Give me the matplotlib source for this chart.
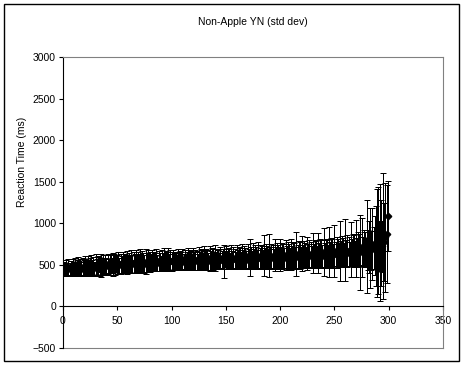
import numpy as np
import matplotlib
matplotlib.use("Agg")
import matplotlib.pyplot as plt
from matplotlib.patches import Rectangle

plt.rcParams['font.family'] = ['Liberation Sans', 'DejaVu Sans']

title = "Non-Apple YN (std dev)"
y_label = "Reaction Time (ms)"

# trial index 1..299, mean reaction time and std dev (ms)
mean_rt = [
    452, 438, 461, 445, 470, 449, 458, 441, 466, 455, 473, 447, 462, 480, 458, 469, 451, 476, 463, 485,
    472, 459, 488, 466, 478, 494, 470, 483, 461, 497, 479, 488, 502, 474, 491, 483, 505, 477, 496, 488,
    510, 485, 499, 516, 492, 505, 521, 498, 511, 503, 525, 496, 514, 507, 529, 502, 518, 511, 533, 506,
    521, 514, 538, 509, 527, 519, 542, 513, 531, 524, 546, 518, 536, 528, 511, 540, 525, 549, 520, 534,
    529, 552, 523, 539, 531, 556, 527, 544, 536, 520, 549, 538, 561, 531, 546, 540, 563, 534, 551, 545,
    558, 537, 549, 544, 528, 562, 541, 553, 547, 566, 539, 556, 534, 550, 568, 543, 557, 552, 536, 571,
    546, 560, 555, 538, 574, 549, 563, 557, 541, 577, 552, 566, 560, 544, 580, 555, 569, 563, 547, 583,
    556, 572, 566, 549, 586, 559, 575, 541, 568, 589, 561, 578, 572, 552, 592, 565, 581, 575, 556, 595,
    568, 584, 578, 559, 598, 571, 587, 581, 561, 601, 574, 590, 584, 564, 604, 577, 593, 587, 567, 607,
    580, 596, 590, 570, 611, 583, 599, 593, 573, 614, 586, 602, 596, 576, 617, 589, 605, 599, 579, 620,
    592, 608, 602, 582, 623, 595, 611, 605, 585, 627, 598, 614, 608, 588, 630, 601, 618, 612, 591, 634,
    605, 622, 616, 595, 639, 609, 626, 620, 599, 643, 612, 630, 624, 602, 648, 616, 635, 629, 606, 653,
    620, 640, 634, 611, 659, 626, 646, 640, 616, 665, 631, 652, 646, 622, 671, 637, 659, 652, 627, 678,
    643, 667, 660, 634, 689, 651, 675, 668, 641, 698, 660, 685, 678, 650, 709, 670, 697, 690, 661, 722,
    684, 713, 706, 675, 748, 702, 734, 727, 760, 792, 728, 770, 760, 722, 845, 780, 830, 870, 1085,
]
std_rt = [
    88, 72, 95, 81, 104, 77, 90, 69, 99, 84, 108, 75, 93, 112, 86, 97, 79, 105, 91, 118,
    94, 83, 121, 88, 102, 126, 85, 110, 79, 131, 97, 115, 92, 104, 136, 89, 112, 99, 124, 95,
    118, 86, 127, 101, 93, 140, 108, 122, 97, 113, 133, 90, 119, 105, 128, 94, 116, 109, 137, 102,
    121, 98, 135, 107, 126, 114, 142, 100, 123, 111, 139, 96, 129, 117, 104, 145, 112, 131, 99, 125,
    104, 124, 93, 114, 107, 133, 95, 120, 109, 91, 127, 103, 137, 98, 117, 112, 140, 101, 123, 115,
    115, 90, 108, 102, 86, 126, 97, 112, 105, 130, 94, 117, 88, 110, 133, 100, 120, 113, 92, 137,
    103, 123, 116, 94, 140, 106, 126, 119, 97, 144, 110, 130, 122, 100, 148, 112, 132, 125, 102, 151,
    99, 120, 109, 89, 131, 102, 121, 195, 92, 136, 105, 123, 114, 95, 142, 107, 128, 118, 98, 146,
    108, 130, 120, 100, 149, 112, 134, 123, 103, 154, 115, 225, 126, 106, 158, 118, 140, 130, 108, 162,
    119, 142, 132, 111, 250, 122, 147, 137, 113, 255, 125, 152, 141, 116, 190, 128, 156, 145, 119, 195,
    126, 153, 144, 118, 180, 130, 158, 148, 120, 185, 134, 164, 153, 124, 265, 137, 167, 157, 126, 210,
    133, 163, 152, 124, 200, 138, 167, 158, 127, 235, 141, 172, 161, 130, 240, 144, 176, 166, 133, 285,
    140, 173, 160, 130, 300, 144, 178, 166, 133, 310, 148, 184, 171, 137, 360, 151, 189, 176, 140, 370,
    153, 194, 178, 144, 330, 158, 202, 186, 148, 345, 163, 209, 195, 450, 360, 168, 218, 202, 158, 560,
    240, 310, 480, 232, 430, 256, 350, 480, 650, 640, 300, 700, 520, 310, 760, 470, 660, 590, 420,
]
trial = list(range(1, len(mean_rt) + 1))

x_ticks = [0, 50, 100, 150, 200, 250, 300, 350]
y_ticks = [-500, 0, 500, 1000, 1500, 2000, 2500, 3000]

fig = plt.figure(figsize=(4.64, 3.66), dpi=100)
fig.patches.append(Rectangle((4 / 464, 5 / 366), 455 / 464, 357 / 366, transform=fig.transFigure,
                             fill=False, edgecolor='black', linewidth=1.0))

ax = fig.add_axes([63 / 464, 18 / 366, 380 / 464, 291 / 366])
_, caps, bars = ax.errorbar(trial, mean_rt, yerr=std_rt, fmt='D', color='black', markersize=3.3,
                            ecolor='black', elinewidth=0.72, capsize=2.4, capthick=0.72)
for b in bars:
    b.set_antialiased(False)

ax.set_xlim(0, 350)
ax.set_ylim(-500, 3000)
ax.set_xticks(x_ticks)
ax.set_yticks(y_ticks)

ax.spines['bottom'].set_position(('data', 0))
ax.spines['bottom'].set_color('black')
ax.spines['left'].set_color('black')
ax.spines['top'].set_color('#808080')
ax.spines['right'].set_color('#808080')
for s in ax.spines.values():
    s.set_linewidth(0.8)
ax.axhline(-500, color='#808080', linewidth=0.8, clip_on=False)

ax.tick_params(axis='both', direction='out', length=3, width=0.8, labelsize=7.5, pad=2)
ax.tick_params(axis='x', pad=4)

fig.text(253 / 464, 1 - 22 / 366, title, ha='center', va='center', fontsize=7.5)
fig.text(22 / 464, 1 - 162 / 366, y_label, ha='center', va='center', rotation=90, fontsize=7.5)

fig.savefig('out.png', dpi=100)
